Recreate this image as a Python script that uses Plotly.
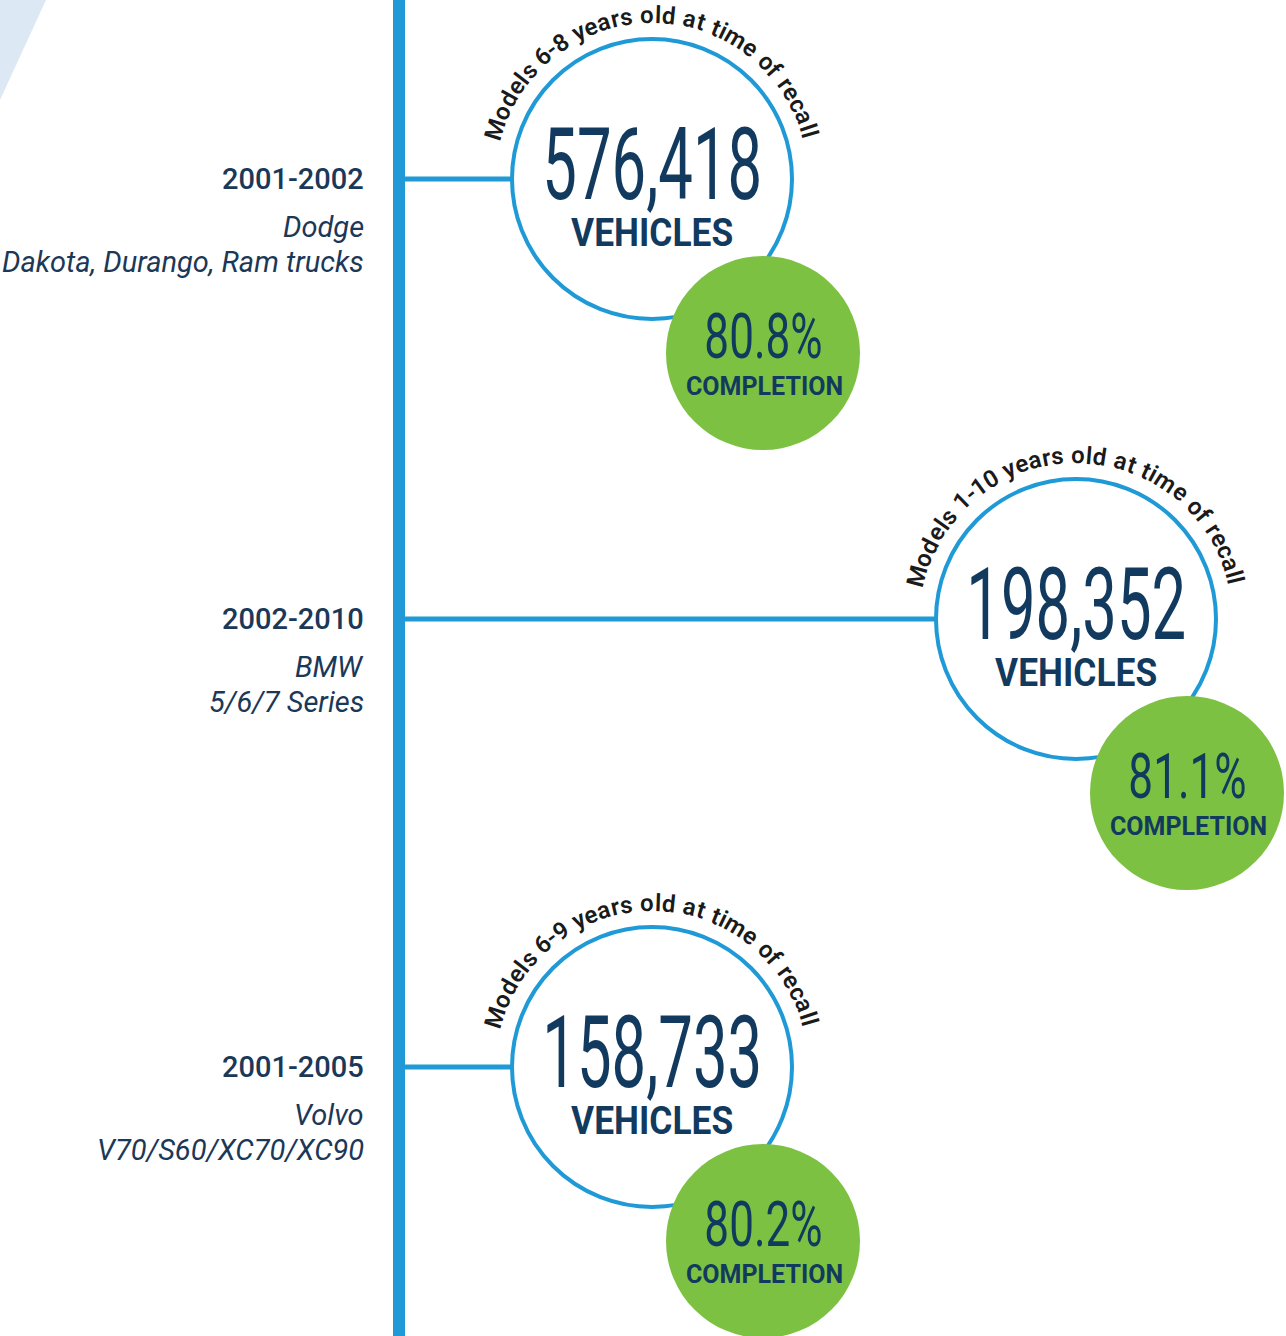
import math
import plotly.graph_objects as go

# ---------------- data ----------------
years = ["2001-2002", "2002-2010", "2001-2005"]
makes = ["Dodge", "BMW", "Volvo"]
models = ["Dakota, Durango, Ram trucks", "5/6/7 Series", "V70/S60/XC70/XC90"]
ages = ["6-8", "1-10", "6-9"]
vehicles = [576418, 198352, 158733]
completion = [80.8, 81.1, 80.2]

# ---------------- layout / style ----------------
W, H = 1286, 1336
BLUE = "#1f9ad6"
GREEN = "#7dc142"
NAVY = "#123a5e"
LABEL = "#1b3858"
ARC_TXT = "#1a1a1a"
row_y = [179, 619, 1067]
circle_cx = [652, 1076, 652]
R = 140
G_DX, G_DY, G_R = 111, 174, 97
SPINE_X = 399
LABEL_X = 366

TXT_FONT = "Roboto, Inter, sans-serif"
NUM_SIZE, NUM_SCALE = 101, 0.61
PCT_SIZE, PCT_SCALE = 63, 0.70
VEH_SIZE, VEH_SCALE = 38, 0.93

# approximate Roboto advance widths (em)
CW = {
    'M': .87, 'o': .57, 'd': .56, 'e': .53, 'l': .25, 's': .52, ' ': .25,
    '-': .28, 'y': .49, 'a': .54, 'r': .35, 't': .33, 'i': .25, 'm': .88,
    'f': .35, 'c': .52,
}
for dch in "0123456789":
    CW[dch] = .56

fig = go.Figure()
fig.add_trace(go.Scatter(x=[0, W], y=[0, H], mode="markers",
                         marker=dict(opacity=0), hoverinfo="skip", showlegend=False))

shapes = []
ann = []

# pale triangle
shapes.append(dict(type="path", path="M 0 0 L 46 0 L 0 100 Z",
                   fillcolor="#dde8f5", line=dict(width=0), layer="below"))
# spine
shapes.append(dict(type="line", x0=SPINE_X, x1=SPINE_X, y0=0, y1=H,
                   line=dict(color=BLUE, width=12)))


def arc_text(text, cx, cy, r, size, tracking, center_deg):
    adv = [CW.get(ch, .5) * size for ch in text]
    total = sum(adv) + tracking * (len(text) - 1)
    pos = math.radians(center_deg) - total / r / 2
    for ch, a in zip(text, adv):
        th = pos + a / 2 / r
        if ch != " ":
            ann.append(dict(x=cx + r * math.sin(th), y=cy - r * math.cos(th),
                            text=ch, showarrow=False, textangle=math.degrees(th),
                            xanchor="center", yanchor="middle",
                            font=dict(family=TXT_FONT, size=size, color=ARC_TXT, weight=600)))
        pos += (a + tracking) / r


for i in range(3):
    cy = row_y[i]
    cx = circle_cx[i]
    # connector
    shapes.append(dict(type="line", x0=SPINE_X + 5, x1=cx - R, y0=cy, y1=cy,
                       line=dict(color=BLUE, width=5)))
    # main circle
    shapes.append(dict(type="circle", x0=cx - R, x1=cx + R, y0=cy - R, y1=cy + R,
                       fillcolor="white", line=dict(color=BLUE, width=4)))
    # green circle
    gx, gy = cx + G_DX, cy + G_DY
    shapes.append(dict(type="circle", x0=gx - G_R, x1=gx + G_R, y0=gy - G_R, y1=gy + G_R,
                       fillcolor=GREEN, line=dict(width=0)))

    # left labels
    ann.append(dict(x=LABEL_X, y=cy + 10 - 0.342 * 29, text=years[i], showarrow=False,
                    xanchor="right", yanchor="middle",
                    font=dict(family=TXT_FONT, size=29, color=LABEL, weight=500)))
    ann.append(dict(x=LABEL_X, y=cy + 58 - 0.342 * 29, text=makes[i], showarrow=False,
                    xanchor="right", yanchor="middle",
                    font=dict(family=TXT_FONT, size=29, color=LABEL, style="italic")))
    ann.append(dict(x=LABEL_X, y=cy + 93 - 0.342 * 29, text=models[i], showarrow=False,
                    xanchor="right", yanchor="middle",
                    font=dict(family=TXT_FONT, size=29, color=LABEL, style="italic")))

    # numbers (boxes trimmed to the glyphs)
    ann.append(dict(x=cx, y=cy + 20 - 0.342 * NUM_SIZE, text=f"{vehicles[i]:,}", showarrow=False,
                    xanchor="center", yanchor="middle", height=100, borderpad=0,
                    font=dict(family=TXT_FONT, size=NUM_SIZE, color=NAVY)))
    ann.append(dict(x=cx, y=cy + 67 - 0.342 * VEH_SIZE, text="VEHICLES", showarrow=False,
                    xanchor="center", yanchor="middle", height=34, borderpad=0,
                    font=dict(family=TXT_FONT, size=VEH_SIZE, color=NAVY, weight=700)))
    ann.append(dict(x=gx, y=gy + 5 - 0.342 * PCT_SIZE, text=f"{completion[i]:.1f}%", showarrow=False,
                    xanchor="center", yanchor="middle", height=56, borderpad=0,
                    font=dict(family=TXT_FONT, size=PCT_SIZE, color=NAVY)))
    ann.append(dict(x=gx + 1, y=gy + 42 - 0.342 * 25, text="COMPLETION", showarrow=False,
                    xanchor="center", yanchor="middle", height=24, borderpad=0,
                    font=dict(family=TXT_FONT, size=25, color=NAVY, weight=700)))

    # curved caption
    arc_text(f"Models {ages[i]} years old at time of recall", cx, cy, 164, 24, 1.0, -0.5)

fig.update_layout(
    width=W, height=H, margin=dict(l=0, r=0, t=0, b=0),
    paper_bgcolor="white", plot_bgcolor="white",
    xaxis=dict(range=[0, W], visible=False, fixedrange=True),
    yaxis=dict(range=[H, 0], visible=False, fixedrange=True),
    shapes=shapes, annotations=ann, showlegend=False,
)

post = """
document.body.style.margin = '0';
document.body.style.overflow = 'hidden';
var gd = document.getElementById('{plot_id}');
var S = {};
S['%dpx'] = %s; S['%dpx'] = %s; S['%dpx'] = %s;
gd.querySelectorAll('text.annotation-text').forEach(function (el) {
  var s = S[el.style.fontSize];
  if (s) {
    var bb = el.getBBox();
    var c = bb.x + bb.width / 2;
    var old = el.getAttribute('transform') || '';
    el.setAttribute('transform', old + ' translate(' + c + ',0) scale(' + s + ',1) translate(' + (-c) + ',0)');
  }
});
""" % (NUM_SIZE, NUM_SCALE, PCT_SIZE, PCT_SCALE, VEH_SIZE, VEH_SCALE)

fig.write_html("out.html", config={"displayModeBar": False}, post_script=post)
